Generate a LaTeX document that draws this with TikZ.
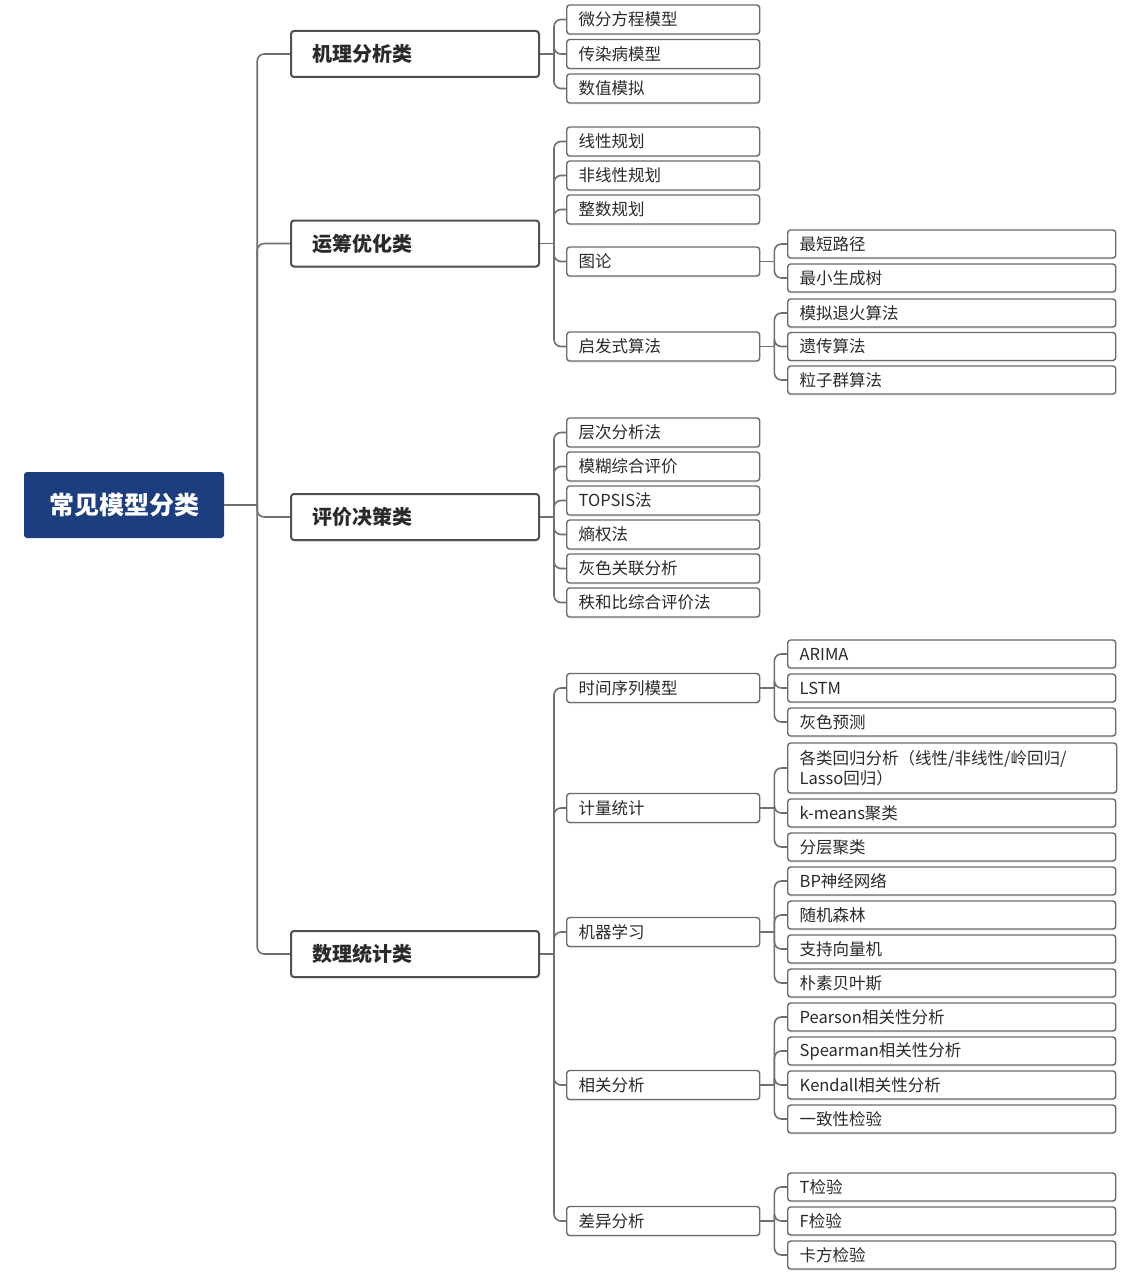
\documentclass[tikz,border=0pt]{standalone}
\usepackage{fontspec}
\setmainfont{Noto Sans CJK SC}
\usetikzlibrary{calc,shadows}
\definecolor{rootblue}{HTML}{1C3D7E}
\definecolor{linegray}{HTML}{707070}
\definecolor{boxgray}{HTML}{505050}
\definecolor{leafgray}{HTML}{6A6A6A}
\definecolor{txt}{HTML}{2A2A2A}
\tikzset{
  rootbox/.style={fill=rootblue, rounded corners=3pt, minimum width=200pt, minimum height=66pt,
    inner sep=0pt, text=white, font=\fontsize{25}{30}\selectfont\bfseries},
  catbox/.style={draw=boxgray, line width=2pt, fill=white, rounded corners=3pt, anchor=west,
    text width=206pt, align=left, inner xsep=21pt, inner ysep=0pt, minimum height=46pt,
    font=\fontsize{20}{24}\selectfont\bfseries, text=txt,
    drop shadow={shadow xshift=0pt, shadow yshift=-1.5pt, fill=black!20}},
  subbox/.style={draw=leafgray, line width=1.4pt, fill=white, rounded corners=3pt, anchor=west,
    text width=169pt, align=left, inner xsep=12pt, inner ysep=0pt, minimum height=29pt,
    font=\fontsize{16.5}{20}\selectfont, text=txt,
    drop shadow={shadow xshift=0pt, shadow yshift=-1.5pt, fill=black!15}},
  leafbox/.style={subbox, text width=304pt, minimum height=28pt},
  conn/.style={draw=linegray, line width=1.6pt, rounded corners=7pt},
}
\begin{document}
\begin{tikzpicture}[x=1pt,y=-1pt]
\useasboundingbox (0,0) rectangle (1134,1284);
\fill[white] (0,0) rectangle (1134,1284);

% root
\node[rootbox] (root) at (124,505) {常见模型分类};

% level 1
\node[catbox] (A) at (290,54) {机理分析类};
\node[catbox] (B) at (290,243.5) {运筹优化类};
\node[catbox] (C) at (290,517) {评价决策类};
\node[catbox] (D) at (290,954) {数理统计类};

% level 2
\node[subbox] (a1) at (566,19.5) {微分方程模型};
\node[subbox] (a2) at (566,54) {传染病模型};
\node[subbox] (a3) at (566,88.5) {数值模拟};

\node[subbox] (b1) at (566,141.5) {线性规划};
\node[subbox] (b2) at (566,175.5) {非线性规划};
\node[subbox] (b3) at (566,209.5) {整数规划};
\node[subbox] (b4) at (566,261.5) {图论};
\node[subbox] (b5) at (566,346.5) {启发式算法};

\node[subbox] (c1) at (566,432.5) {层次分析法};
\node[subbox] (c2) at (566,466.5) {模糊综合评价};
\node[subbox] (c3) at (566,500.5) {TOPSIS法};
\node[subbox] (c4) at (566,534.5) {熵权法};
\node[subbox] (c5) at (566,568.5) {灰色关联分析};
\node[subbox] (c6) at (566,602.5) {秩和比综合评价法};

\node[subbox] (d1) at (566,688) {时间序列模型};
\node[subbox] (d2) at (566,808) {计量统计};
\node[subbox] (d3) at (566,932) {机器学习};
\node[subbox] (d4) at (566,1085) {相关分析};
\node[subbox] (d5) at (566,1221) {差异分析};

% level 3
\node[leafbox] (b41) at (787,244) {最短路径};
\node[leafbox] (b42) at (787,278) {最小生成树};
\node[leafbox] (b51) at (787,313) {模拟退火算法};
\node[leafbox] (b52) at (787,346.5) {遗传算法};
\node[leafbox] (b53) at (787,380) {粒子群算法};

\node[leafbox] (d11) at (787,654) {ARIMA};
\node[leafbox] (d12) at (787,688) {LSTM};
\node[leafbox] (d13) at (787,722) {灰色预测};

\node[leafbox, minimum height=50pt, text width=305pt] (d21) at (787,768) {各类回归分析（线性/非线性/岭回归/\\Lasso回归）};
\node[leafbox] (d22) at (787,813) {k-means聚类};
\node[leafbox] (d23) at (787,847) {分层聚类};

\node[leafbox] (d31) at (787,881) {BP神经网络};
\node[leafbox] (d32) at (787,915) {随机森林};
\node[leafbox] (d33) at (787,949) {支持向量机};
\node[leafbox] (d34) at (787,983) {朴素贝叶斯};

\node[leafbox] (d41) at (787,1017) {Pearson相关性分析};
\node[leafbox] (d42) at (787,1051) {Spearman相关性分析};
\node[leafbox] (d43) at (787,1085) {Kendall相关性分析};
\node[leafbox] (d44) at (787,1119) {一致性检验};

\node[leafbox] (d51) at (787,1187) {T检验};
\node[leafbox] (d52) at (787,1221) {F检验};
\node[leafbox] (d53) at (787,1255) {卡方检验};

% connectors
\coordinate (j0) at ($(root.east)+(33,0)$);
\draw[conn] (root.east) -- (j0);
\foreach \c in {A,B,C,D} \draw[conn] (j0) |- (\c.west);

\coordinate (jA) at ($(A.east)+(14,0)$);
\draw[conn] (A.east) -- (jA);
\foreach \c in {a1,a2,a3} \draw[conn] (jA) |- (\c.west);

\coordinate (jB) at ($(B.east)+(14,0)$);
\draw[conn] (B.east) -- (jB);
\foreach \c in {b1,b2,b3,b4,b5} \draw[conn] (jB) |- (\c.west);

\coordinate (jC) at ($(C.east)+(14,0)$);
\draw[conn] (C.east) -- (jC);
\foreach \c in {c1,c2,c3,c4,c5,c6} \draw[conn] (jC) |- (\c.west);

\coordinate (jD) at ($(D.east)+(14,0)$);
\draw[conn] (D.east) -- (jD);
\foreach \c in {d1,d2,d3,d4,d5} \draw[conn] (jD) |- (\c.west);

\coordinate (jb4) at ($(b4.east)+(14,0)$);
\draw[conn] (b4.east) -- (jb4);
\foreach \c in {b41,b42} \draw[conn] (jb4) |- (\c.west);

\coordinate (jb5) at ($(b5.east)+(14,0)$);
\draw[conn] (b5.east) -- (jb5);
\foreach \c in {b51,b52,b53} \draw[conn] (jb5) |- (\c.west);

\coordinate (jd1) at ($(d1.east)+(14,0)$);
\draw[conn] (d1.east) -- (jd1);
\foreach \c in {d11,d12,d13} \draw[conn] (jd1) |- (\c.west);

\coordinate (jd2) at ($(d2.east)+(14,0)$);
\draw[conn] (d2.east) -- (jd2);
\foreach \c in {d21,d22,d23} \draw[conn] (jd2) |- (\c.west);

\coordinate (jd3) at ($(d3.east)+(14,0)$);
\draw[conn] (d3.east) -- (jd3);
\foreach \c in {d31,d32,d33,d34} \draw[conn] (jd3) |- (\c.west);

\coordinate (jd4) at ($(d4.east)+(14,0)$);
\draw[conn] (d4.east) -- (jd4);
\foreach \c in {d41,d42,d43,d44} \draw[conn] (jd4) |- (\c.west);

\coordinate (jd5) at ($(d5.east)+(14,0)$);
\draw[conn] (d5.east) -- (jd5);
\foreach \c in {d51,d52,d53} \draw[conn] (jd5) |- (\c.west);
\end{tikzpicture}
\end{document}
